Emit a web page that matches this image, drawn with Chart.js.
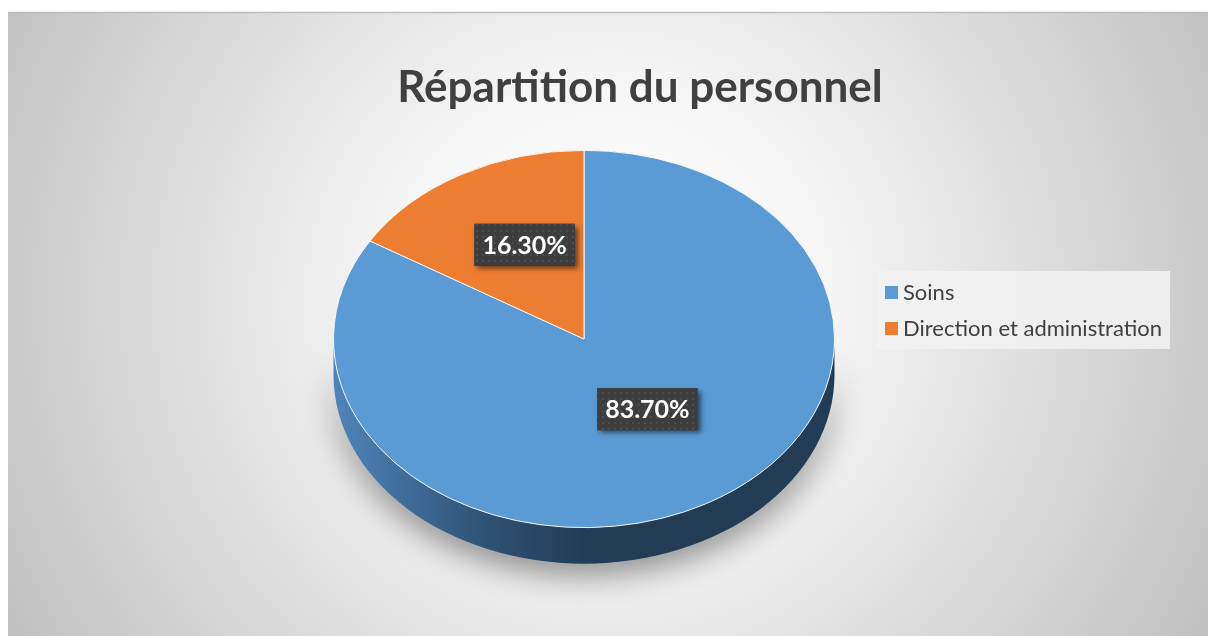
<!DOCTYPE html>
<html>
<head>
<meta charset="utf-8">
<script src="https://cdn.jsdelivr.net/npm/chart.js@4.4.1/dist/chart.umd.min.js"></script>
<style>
  html, body { margin: 0; padding: 0; background: #ffffff; }
  #wrap { width: 1208px; height: 636px; position: relative; }
</style>
</head>
<body>
<div id="wrap"><canvas id="pieChart"></canvas></div>
<script>
// Données
const chartTitle = 'Répartition du personnel';
const categories = ['Soins', 'Direction et administration'];
const shares = [83.7, 16.3];
const sliceColors = ['#5B9BD5', '#ED7D31'];
const sideLight = ['#4f85bb', '#c8681f'];
const sideDark = ['#223c56', '#7e3f12'];

// Effet 3D
const tilt = 0.753;
const depth = 36;
const labelLift = 12;

const ctx = document.getElementById('pieChart').getContext('2d');

// motif à points des étiquettes
const dotCanvas = document.createElement('canvas');
dotCanvas.width = 6; dotCanvas.height = 6;
const dctx = dotCanvas.getContext('2d');
dctx.fillStyle = '#3d3d3d';
dctx.fillRect(0, 0, 6, 6);
dctx.fillStyle = '#4e4e4e';
dctx.fillRect(2, 2, 2, 2);
const dotPattern = ctx.createPattern(dotCanvas, 'repeat');

function pieGeom(chart) {
    const arc = chart.getDatasetMeta(0).data[0];
    return { cx: arc.x, cy: arc.y, r: arc.outerRadius };
}

// Fond dégradé
const backgroundPlugin = {
    id: 'background',
    beforeDraw(chart) {
        const c = chart.ctx;
        c.save();
        const g = c.createRadialGradient(608, 300, 0, 608, 300, 720);
        g.addColorStop(0, '#ffffff');
        g.addColorStop(0.3, '#f6f6f6');
        g.addColorStop(1, '#bcbcbc');
        c.fillStyle = g;
        c.fillRect(8, 12, 1200, 624);
        c.strokeStyle = '#bdbdbd';
        c.lineWidth = 1.5;
        c.beginPath();
        c.moveTo(8, 12.5);
        c.lineTo(1208, 12.5);
        c.stroke();
        c.restore();
    }
};

// Côté du camembert + inclinaison
const tiltPlugin = {
    id: 'tilt',
    beforeDatasetsDraw(chart) {
        const c = chart.ctx;
        const { cx, cy, r } = pieGeom(chart);
        const ry = r * tilt;
        const arcs = chart.getDatasetMeta(0).data;

        arcs.forEach((arc, i) => {
            const s = Math.max(arc.startAngle, 0);
            const e = Math.min(arc.endAngle, Math.PI);
            if (e <= s) return;
            c.save();
            c.shadowColor = 'rgba(0,0,0,0.45)';
            c.shadowBlur = 32;
            c.shadowOffsetY = 10;
            const g = c.createLinearGradient(cx - r, 0, cx + r, 0);
            g.addColorStop(0, sideLight[i]);
            g.addColorStop(0.3, '#2f5274');
            g.addColorStop(0.5, sideDark[i]);
            g.addColorStop(1, sideDark[i]);
            c.fillStyle = i === 0 ? g : sideDark[i];
            c.beginPath();
            c.ellipse(cx, cy, r, ry, 0, s, e);
            c.ellipse(cx, cy + depth, r, ry, 0, e, s, true);
            c.closePath();
            c.fill();
            c.restore();
        });

        c.save();
        c.translate(cx, cy);
        c.scale(1, tilt);
        c.translate(-cx, -cy);
    },
    afterDatasetsDraw(chart) {
        chart.ctx.restore();
    }
};

// Étiquettes de données
const labelPlugin = {
    id: 'dataLabels',
    afterDraw(chart) {
        const c = chart.ctx;
        const { cy } = pieGeom(chart);
        const arcs = chart.getDatasetMeta(0).data;
        arcs.forEach((arc, i) => {
            const p = arc.tooltipPosition();
            const x = p.x + 2;
            const y = cy + (p.y - cy) * tilt - labelLift;
            const text = shares[i].toFixed(2) + '%';
            c.save();
            c.font = 'bold 25px Lato';
            const w = c.measureText(text).width + 16;
            const h = 42;
            c.shadowColor = 'rgba(0,0,0,0.55)';
            c.shadowBlur = 5;
            c.shadowOffsetX = 3;
            c.shadowOffsetY = 3;
            c.fillStyle = '#3d3d3d';
            c.fillRect(x - w / 2, y - h / 2, w, h);
            c.shadowColor = 'transparent';
            c.fillStyle = dotPattern;
            c.fillRect(x - w / 2, y - h / 2, w, h);
            c.fillStyle = '#ffffff';
            c.textAlign = 'center';
            c.textBaseline = 'middle';
            c.fillText(text, x, y + 1);
            c.restore();
        });
    }
};

// Titre et légende
const textPlugin = {
    id: 'titleLegend',
    afterDraw(chart) {
        const c = chart.ctx;
        c.save();
        c.fillStyle = '#404040';
        c.font = 'bold 44px Lato';
        c.textAlign = 'center';
        c.textBaseline = 'alphabetic';
        c.fillText(chartTitle, 640, 102);

        c.fillStyle = 'rgba(242,242,242,0.85)';
        c.fillRect(877, 271, 293, 78);
        c.font = '22px Lato';
        c.textAlign = 'left';
        categories.forEach((name, i) => {
            const y = 292 + i * 36;
            c.fillStyle = sliceColors[i];
            c.fillRect(885, y - 6, 13, 13);
            c.fillStyle = '#404040';
            c.textBaseline = 'middle';
            c.fillText(name, 903, y + 1);
        });
        c.restore();
    }
};

const pieChart = new Chart(ctx, {
    type: 'pie',
    data: {
        labels: categories,
        datasets: [{
            data: shares,
            backgroundColor: sliceColors,
            borderColor: '#ffffff',
            borderWidth: 1
        }]
    },
    options: {
        responsive: true,
        maintainAspectRatio: false,
        animation: false,
        events: [],
        layout: { padding: { left: 333, right: 373, top: 88, bottom: 46 } },
        plugins: {
            legend: { display: false },
            title: { display: false },
            tooltip: { enabled: false }
        }
    },
    plugins: [backgroundPlugin, tiltPlugin, labelPlugin, textPlugin]
});
</script>
</body>
</html>
